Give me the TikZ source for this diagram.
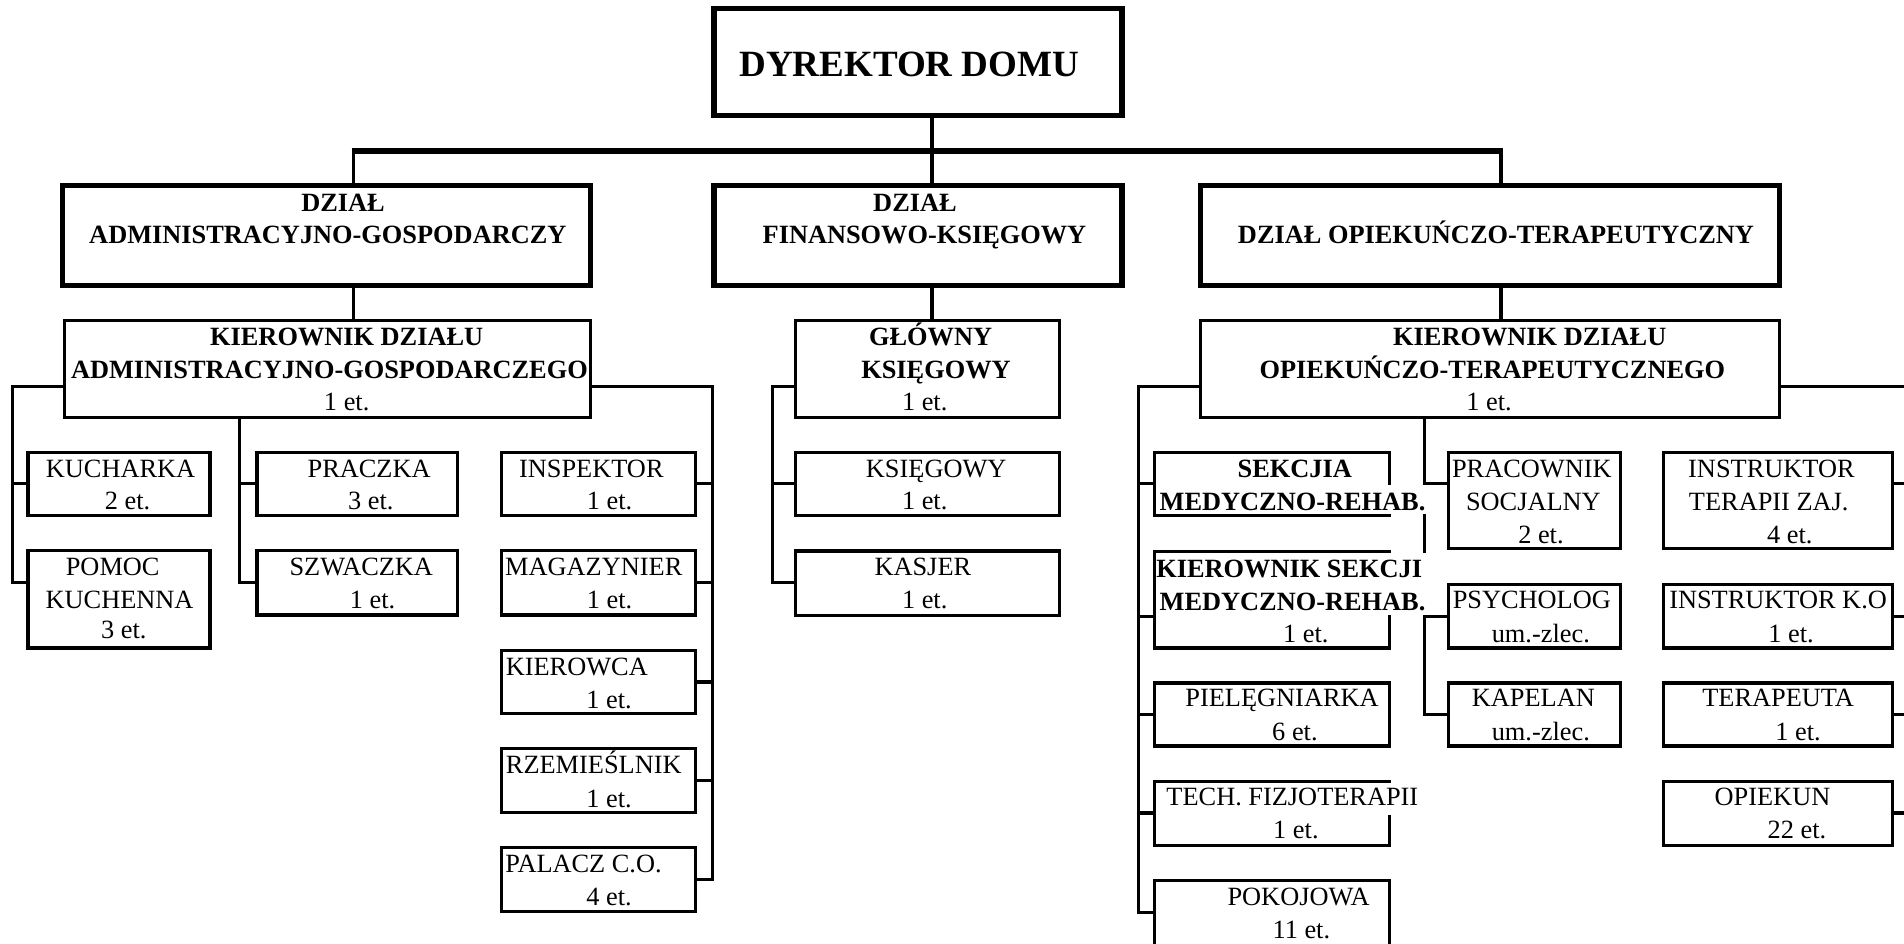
\documentclass[tikz,border=0pt]{standalone}
\usepackage{fontspec}
\setmainfont{Liberation Serif}
\newcommand\orgbox[6]{\node[#1, minimum width={(#5)-(#3)}, minimum height={(#6)-(#4)}] (#2) at ({((#3)+(#5))/2},{((#4)+(#6))/2}) {};}
\begin{document}
\begin{tikzpicture}[x=1pt,y=-1pt,
  thinbox/.style={draw, line width=2.6pt, inner sep=0pt, outer sep=0pt},
  thickbox/.style={draw, line width=4.2pt, inner sep=0pt, outer sep=0pt},
  conn/.style={line width=2.6pt},
  barline/.style={line width=4.6pt},
  deptconn/.style={line width=2.8pt},
  lbl/.style={anchor=base, inner sep=0pt, font=\fontsize{21.7}{26}\selectfont},
  blbl/.style={anchor=base, inner sep=0pt, font=\fontsize{21.7}{26}\selectfont\bfseries},
  dlbl/.style={anchor=base, inner sep=0pt, font=\fontsize{30.5}{36}\selectfont\bfseries},
  cover/.style={fill=white}]
\useasboundingbox (0,0) rectangle (1568,777);
\clip (0,0) rectangle (1568,777);
\fill[white] (0,0) rectangle (1568,777);

% boxes
\orgbox{thickbox}{dir}{588}{7}{924}{95.3}
\orgbox{thickbox}{adm}{51.8}{153.1}{486.3}{235.3}
\orgbox{thickbox}{fin}{588}{153.1}{924}{235.3}
\orgbox{thickbox}{opi}{988.7}{153.1}{1465.6}{235.3}
\orgbox{thinbox}{kA}{53.3}{264}{486}{343.5}
\orgbox{thinbox}{kF}{655}{264}{872.5}{343.5}
\orgbox{thinbox}{kO}{988.5}{264}{1465.2}{343.5}
\orgbox{thinbox}{kuch}{23}{372.5}{173}{424.8}
\orgbox{thinbox}{pomoc}{23}{453.5}{173}{533.7}
\orgbox{thinbox}{pracz}{211.7}{372.5}{376.5}{424.8}
\orgbox{thinbox}{szwa}{211.7}{453.5}{376.5}{506.5}
\orgbox{thinbox}{insp}{413}{372.5}{573}{424.8}
\orgbox{thinbox}{magaz}{413}{453.5}{573}{506.5}
\orgbox{thinbox}{kier}{413}{535.7}{573}{587.8}
\orgbox{thinbox}{rzem}{413}{616.4}{573}{668.8}
\orgbox{thinbox}{palacz}{413}{697.7}{573}{750.6}
\orgbox{thinbox}{ksieg}{655}{372.5}{872.5}{424.8}
\orgbox{thinbox}{kasjer}{655}{453.7}{872.5}{507}
\orgbox{thinbox}{sekcja}{950.6}{372.5}{1144.6}{424.8}
\orgbox{thinbox}{kiersek}{950.6}{454}{1144.6}{533.7}
\orgbox{thinbox}{piel}{950.6}{562.4}{1144.6}{614.4}
\orgbox{thinbox}{tech}{950.6}{643.3}{1144.6}{696.2}
\orgbox{thinbox}{pokoj}{950.6}{725}{1144.6}{781}
\orgbox{thinbox}{pracow}{1193}{372.5}{1334.8}{451.4}
\orgbox{thinbox}{psych}{1193}{481.4}{1334.8}{533.7}
\orgbox{thinbox}{kapelan}{1193}{562.4}{1334.8}{614.4}
\orgbox{thinbox}{instr}{1370}{372.5}{1558.4}{451.4}
\orgbox{thinbox}{instko}{1370}{481.4}{1558.4}{533.7}
\orgbox{thinbox}{terap}{1370}{562.4}{1558.4}{614.4}
\orgbox{thinbox}{opiek}{1370}{643.3}{1558.4}{696.2}

% reference coordinates
\coordinate (bL) at (291,124.4);
\coordinate (bR) at (1236,124.4);
\coordinate (bM) at (767.6,124.4);
\coordinate (aL) at (10.6,318);
\coordinate (aR) at (586.8,318);
\coordinate (fL) at (636,318);
\coordinate (oL) at (937.6,318);
\coordinate (oR) at (1572,318);
\coordinate (aM) at (197,343.5);
\coordinate (oM) at (1173,343.5);
\coordinate (y398) at (0,398);
\coordinate (y480) at (0,480);
\coordinate (y507) at (0,507.8);
\coordinate (y561) at (0,561.7);
\coordinate (y588) at (0,588.4);
\coordinate (y642) at (0,642.6);
\coordinate (y669) at (0,669.5);
\coordinate (y724) at (0,724);
\coordinate (y751) at (0,751.4);

% top level
\draw[barline] ([xshift=-1.4pt]bL) -- ([xshift=1.4pt]bR);
\draw[deptconn] (dir.south -| bM) -- (fin.north -| bM);
\draw[deptconn] (bL) -- (adm.north -| bL);
\draw[deptconn] (bR) -- (opi.north -| bR);
\draw[deptconn] (adm.south -| bL) -- (kA.north -| bL);
\draw[deptconn] (fin.south -| bM) -- (kF.north -| bM);
\draw[deptconn] (opi.south -| bR) -- (kO.north -| bR);

% administration
\draw[conn] (kA.west |- aL) -- (aL) -- (aL |- y480) -- (pomoc.west |- y480);
\draw[conn] (aL |- y398) -- (kuch.west |- y398);
\draw[conn] (aM) -- (aM |- y480) -- (szwa.west |- y480);
\draw[conn] (aM |- y398) -- (pracz.west |- y398);
\draw[conn] (kA.east |- aR) -- (aR) -- (aR |- y724) -- (palacz.east |- y724);
\foreach \n/\y in {insp/y398, magaz/y480, kier/y561, rzem/y642}
  \draw[conn] (aR |- \y) -- (\n.east |- \y);
% finance
\draw[conn] (kF.west |- fL) -- (fL) -- (fL |- y480) -- (kasjer.west |- y480);
\draw[conn] (fL |- y398) -- (ksieg.west |- y398);
% care and therapy
\draw[conn] (kO.west |- oL) -- (oL) -- (oL |- y751) -- (pokoj.west |- y751);
\foreach \n/\y in {sekcja/y398, kiersek/y507, piel/y588, tech/y669}
  \draw[conn] (oL |- \y) -- (\n.west |- \y);
\draw[conn] (oM) -- (oM |- y588) -- (kapelan.west |- y588);
\foreach \n/\y in {pracow/y398, psych/y507}
  \draw[conn] (oM |- \y) -- (\n.west |- \y);
\draw[conn] (kO.east |- oR) -- (oR) -- (oR |- y669) -- (opiek.east |- y669);
\foreach \n/\y in {instr/y398, instko/y507, terap/y588}
  \draw[conn] (oR |- \y) -- (\n.east |- \y);

% text backgrounds of overflowing text
\fill[cover] (952.8,399.8) rectangle (1176,423.4);
\fill[cover] (952.8,455.4) rectangle (1176,506.3);
\fill[cover] (952.8,644.7) rectangle (1170,671);

% texts
\node[dlbl] (tdir) at (748.8,62.6) {DYREKTOR DOMU};
\node[blbl] (tadm1) at (282.5,174.2) {DZIAŁ};
\node[blbl] (tadm2) at (270,200.8) {ADMINISTRACYJNO-GOSPODARCZY};
\node[blbl] (tfin1) at (753.5,174.2) {DZIAŁ};
\node[blbl] (tfin2) at (761.3,200.8) {FINANSOWO-KSIĘGOWY};
\node[blbl] (topi) at (1232,200.8) {DZIAŁ OPIEKUŃCZO-TERAPEUTYCZNY};

\node[blbl] (tkA1) at (285.5,284.2) {KIEROWNIK DZIAŁU};
\node[blbl] (tkA2) at (271.3,311.9) {ADMINISTRACYJNO-GOSPODARCZEGO};
\node[lbl] (tkA3) at (285.5,338) {1 et.};
\node[blbl] (tkF1) at (766.4,284.2) {GŁÓWNY};
\node[blbl] (tkF2) at (770.8,311.9) {KSIĘGOWY};
\node[lbl] (tkF3) at (761.5,338) {1 et.};
\node[blbl] (tkO1) at (1259.8,284.2) {KIEROWNIK DZIAŁU};
\node[blbl] (tkO2) at (1229,311.9) {OPIEKUŃCZO-TERAPEUTYCZNEGO};
\node[lbl] (tkO3) at (1226.3,338) {1 et.};

\node[lbl] (tkuch1) at (99.3,392.9) {KUCHARKA};
\node[lbl] (tkuch2) at (105,419.4) {2 et.};
\node[lbl] (tpom1) at (92.8,473.9) {POMOC};
\node[lbl] (tpom2) at (98.5,501.2) {KUCHENNA};
\node[lbl] (tpom3) at (102,526.2) {3 et.};
\node[lbl] (tpra1) at (304,392.9) {PRACZKA};
\node[lbl] (tpra2) at (305.3,419.4) {3 et.};
\node[lbl] (tszw1) at (297.5,473.9) {SZWACZKA};
\node[lbl] (tszw2) at (306.8,501.2) {1 et.};
\node[lbl] (tins1) at (487,392.9) {INSPEKTOR};
\node[lbl] (tins2) at (502,419.4) {1 et.};
\node[lbl] (tmag1) at (489,473.9) {MAGAZYNIER};
\node[lbl] (tmag2) at (502,501.2) {1 et.};
\node[lbl] (tkie1) at (475,556.2) {KIEROWCA};
\node[lbl] (tkie2) at (501.5,583.7) {1 et.};
\node[lbl] (trze1) at (489,637.2) {RZEMIEŚLNIK};
\node[lbl] (trze2) at (501.5,664.6) {1 et.};
\node[lbl] (tpal1) at (480.5,718.2) {PALACZ C.O.};
\node[lbl] (tpal2) at (501.5,745.6) {4 et.};

\node[lbl] (tksi1) at (771,392.9) {KSIĘGOWY};
\node[lbl] (tksi2) at (761.5,419.4) {1 et.};
\node[lbl] (tkas1) at (760,473.9) {KASJER};
\node[lbl] (tkas2) at (761.5,501.2) {1 et.};

\node[blbl] (tsek1) at (1066.3,392.9) {SEKCJIA};
\node[blbl] (tsek2) at (1064.4,420.2) {MEDYCZNO-REHAB.};
\node[blbl] (tks1) at (1061.7,475.2) {KIEROWNIK SEKCJI};
\node[blbl] (tks2) at (1064.4,502.7) {MEDYCZNO-REHAB.};
\node[lbl] (tks3) at (1075.3,529.2) {1 et.};
\node[lbl] (tpie1) at (1055.8,582.2) {PIELĘGNIARKA};
\node[lbl] (tpie2) at (1066.4,609.7) {6 et.};
\node[lbl] (ttec1) at (1064.3,663.2) {TECH. FIZJOTERAPII};
\node[lbl] (ttec2) at (1067.2,690.7) {1 et.};
\node[lbl] (tpok1) at (1069.4,745.6) {POKOJOWA};
\node[lbl] (tpok2) at (1071.7,773.1) {11 et.};

\node[lbl] (tprc1) at (1261.5,392.9) {PRACOWNIK};
\node[lbl] (tprc2) at (1262.8,420.2) {SOCJALNY};
\node[lbl] (tprc3) at (1269,447.8) {2 et.};
\node[lbl] (tpsy1) at (1261.5,501.2) {PSYCHOLOG};
\node[lbl] (tpsy2) at (1268.9,528.7) {um.-zlec.};
\node[lbl] (tkap1) at (1262.8,582.2) {KAPELAN};
\node[lbl] (tkap2) at (1268.9,609.7) {um.-zlec.};

\node[lbl] (tit1) at (1458.8,392.9) {INSTRUKTOR};
\node[lbl] (tit2) at (1456.6,420.2) {TERAPII ZAJ.};
\node[lbl] (tit3) at (1474,447.8) {4 et.};
\node[lbl] (tko1) at (1464.3,501.2) {INSTRUKTOR K.O};
\node[lbl] (tko2) at (1475,528.7) {1 et.};
\node[lbl] (tte1) at (1464.3,582.2) {TERAPEUTA};
\node[lbl] (tte2) at (1480.8,609.7) {1 et.};
\node[lbl] (top1) at (1459.7,663.2) {OPIEKUN};
\node[lbl] (top2) at (1479.8,690.7) {22 et.};
\end{tikzpicture}
\end{document}
